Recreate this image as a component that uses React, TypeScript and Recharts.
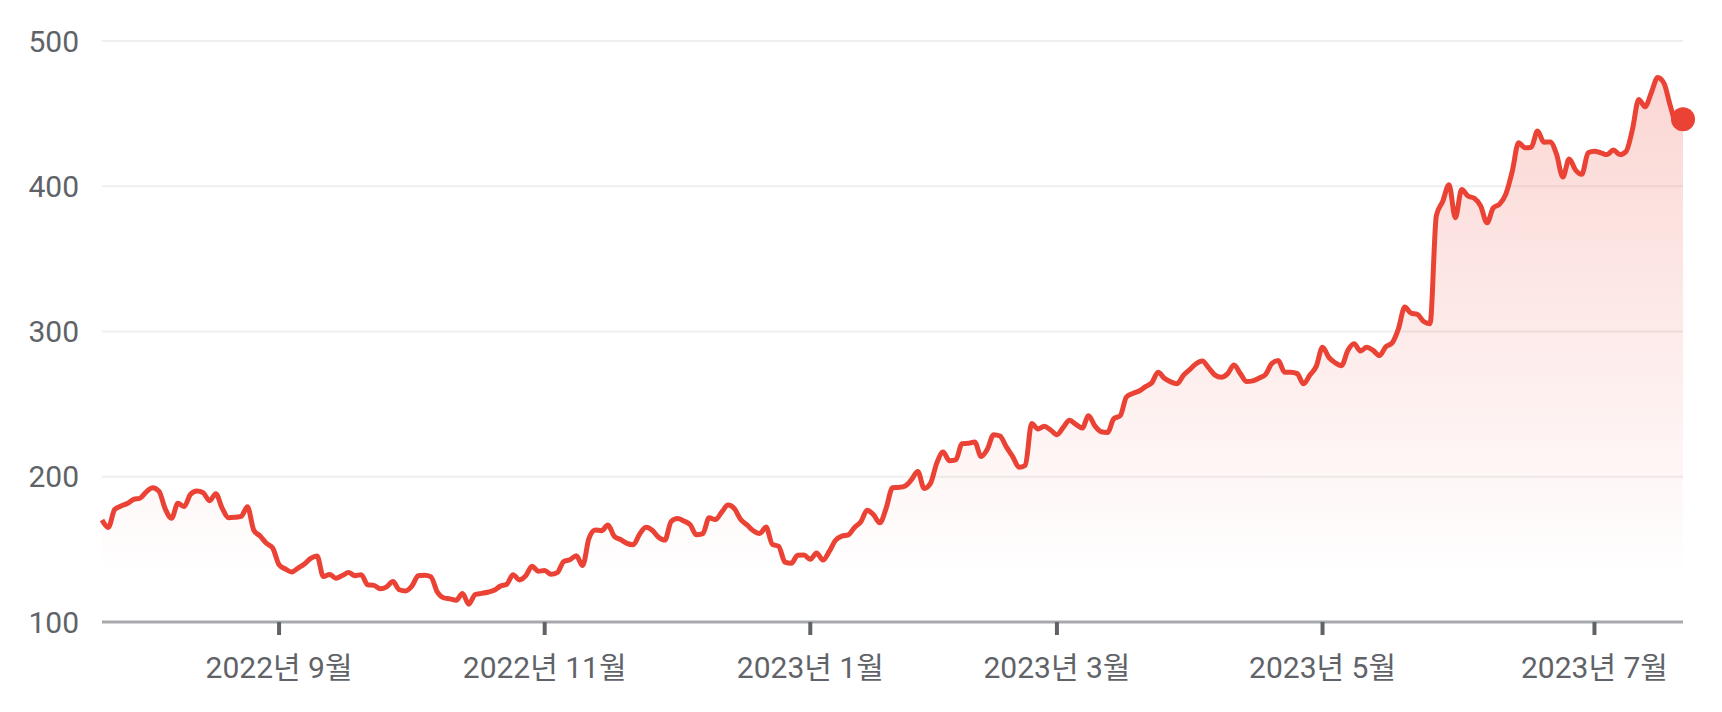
import { AreaChart, Area, XAxis, YAxis, CartesianGrid, ReferenceDot } from 'recharts'

// Daily closing prices, one per trading day (2022-07-25 .. 2023-07-24)
const closesJul22 = [170.2, 165.1, 177.5, 179.8, 181.6]
const closesAug22 = [184.4, 185.2, 189.6, 192.5, 190.1, 177.9, 171.4, 181.7, 179.5, 187.9, 190.2, 189.0, 183.5, 188.3, 178.4, 171.8, 172.1, 172.7, 179.3, 163.2, 159.2, 154.2, 150.9]
const closesSep22 = [139.4, 136.5, 134.4, 137.1, 139.9, 143.8, 145.5, 131.3, 132.7, 130.2, 132.0, 134.0, 131.9, 132.6, 125.6, 125.2, 122.9, 124.2, 127.9, 122.2, 121.4]
const closesOct22 = [124.7, 131.8, 132.2, 131.2, 120.8, 116.7, 115.9, 115.0, 119.6, 112.3, 118.9, 119.7, 120.5, 121.9, 124.7, 126.0, 132.6, 129.0, 131.8, 138.3, 135.0]
const closesNov22 = [135.4, 132.8, 134.0, 141.6, 142.9, 145.6, 138.9, 157.5, 163.3, 162.9, 166.7, 159.1, 156.8, 154.1, 153.2, 160.4, 165.2, 163.2, 158.4, 156.4, 169.2]
const closesDec22 = [171.3, 169.6, 167.0, 160.0, 160.8, 171.7, 170.5, 175.7, 180.5, 178.0, 170.6, 166.8, 162.8, 160.9, 165.4, 153.4, 152.1, 141.2, 140.4, 146.0, 146.1]
const closesJan23 = [143.2, 147.5, 142.6, 148.6, 156.3, 159.1, 160.0, 165.1, 169.0, 177.0, 173.8, 168.3, 178.4, 192.4, 192.7, 193.7, 198.0, 203.7, 191.9, 195.4]
const closesFeb23 = [209.4, 217.0, 211.0, 211.6, 222.8, 223.0, 224.0, 214.0, 219.0, 229.0, 228.0, 220.6, 213.9, 206.6, 207.9, 236.6, 232.9, 234.8, 232.2]
const closesMar23 = [229.0, 234.0, 238.9, 236.0, 233.5, 242.0, 235.0, 231.0, 230.5, 240.0, 242.0, 255.0, 257.3, 259.0, 262.0, 264.7, 271.9, 267.8, 265.3, 264.1, 269.8, 273.8, 277.8]
const closesApr23 = [279.7, 275.0, 270.0, 268.5, 271.0, 277.0, 271.0, 265.5, 266.0, 268.0, 270.5, 278.0, 280.0, 272.0, 272.0, 271.0, 264.0, 270.0, 276.0]
const closesMay23 = [289.1, 282.2, 278.5, 276.5, 286.9, 291.5, 286.6, 289.1, 287.0, 283.4, 289.5, 292.1, 301.8, 316.8, 312.6, 311.8, 306.9, 305.4, 379.8, 389.5, 401.1, 378.3]
const closesJun23 = [397.7, 393.3, 391.7, 386.5, 374.8, 385.1, 387.7, 394.8, 410.2, 430.0, 426.5, 426.9, 438.1, 430.3, 430.5, 422.1, 406.3, 418.8, 411.2, 408.2, 423.0]
const closesJul23 = [424.1, 423.0, 421.8, 425.0, 421.8, 424.0, 439.0, 459.8, 454.7, 464.6, 474.9, 470.8, 455.2, 443.1, 446.1]

// x ticks sit on the first trading day of every second month
const monthTicks = [28, 70, 112, 151, 193, 236]
const monthLabels = ['2022년 9월', '2022년 11월', '2023년 1월', '2023년 3월', '2023년 5월', '2023년 7월']
const priceTicks = [100, 200, 300, 400, 500]

const closes = [
  ...closesJul22, ...closesAug22, ...closesSep22, ...closesOct22, ...closesNov22, ...closesDec22,
  ...closesJan23, ...closesFeb23, ...closesMar23, ...closesApr23, ...closesMay23, ...closesJun23, ...closesJul23,
]
const data = closes.map((close, day) => ({ day, close }))
const last = data[data.length - 1]

const RED = '#ea4335'
const TEXT = '#5f6368'

export default function App() {
  return (
    <div
      style={{
        position: 'absolute', left: 0, top: 0, width: 1722, height: 712,
        background: '#fff', fontFamily: 'Roboto, "Noto Sans CJK KR", sans-serif',
      }}
    >
      <AreaChart width={1722} height={712} data={data} margin={{ top: 41, right: 39, bottom: 0, left: 0 }}>
        <defs>
          <linearGradient id="priceFill" x1="0" y1="0" x2="0" y2="1">
            <stop offset="0%" stopColor={RED} stopOpacity={0.36} />
            <stop offset="92%" stopColor={RED} stopOpacity={0} />
          </linearGradient>
        </defs>
        <CartesianGrid vertical={false} stroke="#efefef" strokeWidth={2} />
        <XAxis
          type="number"
          dataKey="day"
          domain={[0, data.length - 1]}
          ticks={monthTicks}
          interval={0}
          tickFormatter={(v) => monthLabels[monthTicks.indexOf(v)]}
          axisLine={{ stroke: '#a7a9ac', strokeWidth: 3 }}
          tickLine={{ stroke: TEXT, strokeWidth: 4 }}
          tickSize={13}
          tickMargin={22}
          height={90}
          tick={{ fill: TEXT, fontSize: 30 }}
        />
        <YAxis
          type="number"
          domain={[100, 500]}
          ticks={priceTicks}
          width={102}
          axisLine={false}
          tickLine={false}
          tickSize={0}
          tickMargin={23}
          tick={{ fill: TEXT, fontSize: 30 }}
        />
        <Area
          type="monotone"
          dataKey="close"
          stroke={RED}
          strokeWidth={5}
          strokeLinejoin="round"
          fill="url(#priceFill)"
          dot={false}
          activeDot={false}
          isAnimationActive={false}
        />
        <ReferenceDot x={last.day} y={last.close} r={12} fill={RED} stroke="none" ifOverflow="visible" />
      </AreaChart>
    </div>
  )
}
